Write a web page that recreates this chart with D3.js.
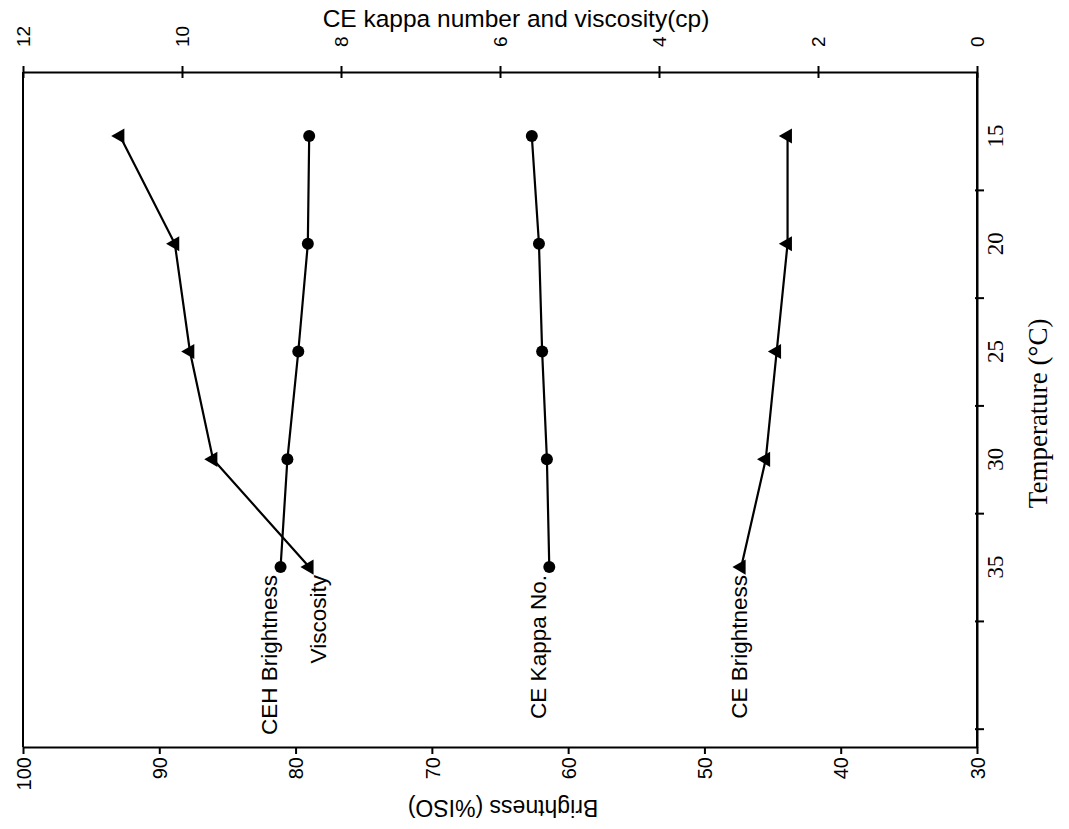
<!DOCTYPE html>
<html>
<head>
<meta charset="utf-8">
<script src="https://cdn.jsdelivr.net/npm/d3@7"></script>
<style>
  html, body { margin: 0; padding: 0; background: #fff; }
  svg { display: block; }
</style>
</head>
<body>
<svg id="chart" width="1069" height="829"></svg>
<script>
// ---------------- data ----------------
const temperatures = [15, 20, 25, 30, 35];
const viscosity     = [10.78, 10.09, 9.90, 9.61, 8.40];   // cp (top axis)
const ceKappa       = [5.60, 5.51, 5.47, 5.41, 5.38];     // kappa (top axis)
const cehBrightness = [79.0, 79.1, 79.8, 80.6, 81.1];     // %ISO (bottom axis)
const ceBrightness  = [43.9, 43.9, 44.7, 45.5, 47.3];     // %ISO (bottom axis)

const brightTicks = [100, 90, 80, 70, 60, 50, 40, 30];
const topTicks    = [12, 10, 8, 6, 4, 2, 0];
const tempLabels  = [15, 20, 25, 30, 35];
const tempTickMarks = [17.5, 22.5, 27.5, 32.5, 37.5, 42.5];

const seriesNames = ["CEH Brightness", "Viscosity", "CE Kappa No.", "CE Brightness"];

// ---------------- layout ----------------
const L = 23, R = 977, T = 72, B = 747;
const svg = d3.select("#chart");

const xBright = d3.scaleLinear().domain([100, 30]).range([L, R]);
const xTop    = d3.scaleLinear().domain([12, 0]).range([L, R]);
const yTemp   = d3.scaleLinear().domain([12.03, 43.35]).range([T, B]);

const sans = "Liberation Sans, Arial, sans-serif";
const serif = "Liberation Serif, Times New Roman, serif";

// frame lines
const axG = svg.append("g").attr("stroke", "#000").attr("stroke-width", 2).attr("fill", "none");
axG.append("line").attr("x1", L).attr("x2", L).attr("y1", T).attr("y2", B);
axG.append("line").attr("x1", R).attr("x2", R).attr("y1", T).attr("y2", B);

// bottom axis
const bottomAxis = svg.append("g").attr("transform", `translate(0,${B})`)
  .call(d3.axisBottom(xBright).tickValues(brightTicks).tickSize(7).tickSizeOuter(0));
bottomAxis.select(".domain").attr("stroke-width", 2);
bottomAxis.selectAll(".tick line").attr("stroke-width", 2);
bottomAxis.selectAll(".tick text")
  .attr("transform", "rotate(-90)")
  .attr("x", -10).attr("y", 0).attr("dy", "0.36em")
  .attr("text-anchor", "end")
  .style("font-family", sans).style("font-size", "20px").attr("fill", "#000");

// top axis
const topAxis = svg.append("g").attr("transform", `translate(0,${T})`)
  .call(d3.axisTop(xTop).tickValues(topTicks).tickSize(6).tickSizeOuter(0));
topAxis.select(".domain").attr("stroke-width", 2);
topAxis.selectAll(".tick line").attr("stroke-width", 2).attr("y2", -6).attr("y1", 6);
topAxis.selectAll(".tick text")
  .attr("transform", "rotate(-90)")
  .attr("x", 25).attr("y", 0).attr("dy", "0.36em")
  .attr("text-anchor", "start")
  .style("font-family", sans).style("font-size", "19px").attr("fill", "#000");

// right axis (temperature): tick marks between labels
const rightAxis = svg.append("g").attr("transform", `translate(${R},0)`)
  .call(d3.axisRight(yTemp).tickValues(tempTickMarks).tickSize(7).tickSizeOuter(0).tickFormat(""));
rightAxis.select(".domain").attr("stroke-width", 2);
rightAxis.selectAll(".tick line").attr("stroke-width", 2).attr("x1", -2);

svg.append("g").selectAll("text").data(tempLabels).join("text")
  .attr("transform", d => `translate(${R + 26},${yTemp(d)}) rotate(-90)`)
  .attr("text-anchor", "middle")
  .style("font-family", serif).style("font-size", "23px")
  .text(d => d);

// titles
svg.append("text")
  .attr("x", 516).attr("y", 27)
  .attr("text-anchor", "middle")
  .style("font-family", sans).style("font-size", "24.5px")
  .text("CE kappa number and viscosity(cp)");

svg.append("text")
  .attr("transform", `translate(${(L + R) / 2 + 3},${800}) rotate(180)`)
  .attr("text-anchor", "middle")
  .style("font-family", sans).style("font-size", "23px")
  .text("Brightness (%ISO)");

svg.append("text")
  .attr("transform", `translate(${R + 70},${(yTemp(25) + yTemp(30)) / 2 + 8}) rotate(-90)`)
  .attr("text-anchor", "middle")
  .style("font-family", serif).style("font-size", "27px")
  .text("Temperature (\u00B0C)");

// ---------------- series ----------------
const series = [
  { name: seriesNames[0], vals: cehBrightness, x: xBright, marker: "circle",   ldx: -4 },
  { name: seriesNames[1], vals: viscosity,     x: xTop,    marker: "triangle", ldx: 17 },
  { name: seriesNames[2], vals: ceKappa,       x: xTop,    marker: "circle",   ldx: -3 },
  { name: seriesNames[3], vals: ceBrightness,  x: xBright, marker: "triangle", ldx: 6 }
];

const line = (sx) => d3.line().x(d => sx(d.v)).y(d => yTemp(d.t));

series.forEach(s => {
  const pts = temperatures.map((t, i) => ({ t, v: s.vals[i] }));
  const g = svg.append("g");
  g.append("path").datum(pts)
    .attr("d", line(s.x))
    .attr("fill", "none").attr("stroke", "#000").attr("stroke-width", 2.2);
  if (s.marker === "circle") {
    g.selectAll("circle").data(pts).join("circle")
      .attr("cx", d => s.x(d.v)).attr("cy", d => yTemp(d.t)).attr("r", 6).attr("fill", "#000");
  } else {
    const sym = d3.symbol().type(d3.symbolTriangle).size(100);
    g.selectAll("path.m").data(pts).join("path").attr("class", "m")
      .attr("d", sym)
      .attr("transform", d => `translate(${s.x(d.v)},${yTemp(d.t)}) rotate(-90)`)
      .attr("fill", "#000");
  }
  const last = pts[pts.length - 1];
  g.append("text")
    .attr("transform", `translate(${s.x(last.v) + s.ldx},${yTemp(last.t) + 8}) rotate(-90)`)
    .attr("text-anchor", "end")
    .style("font-family", sans).style("font-size", "22.5px")
    .text(s.name);
});
</script>
</body>
</html>
